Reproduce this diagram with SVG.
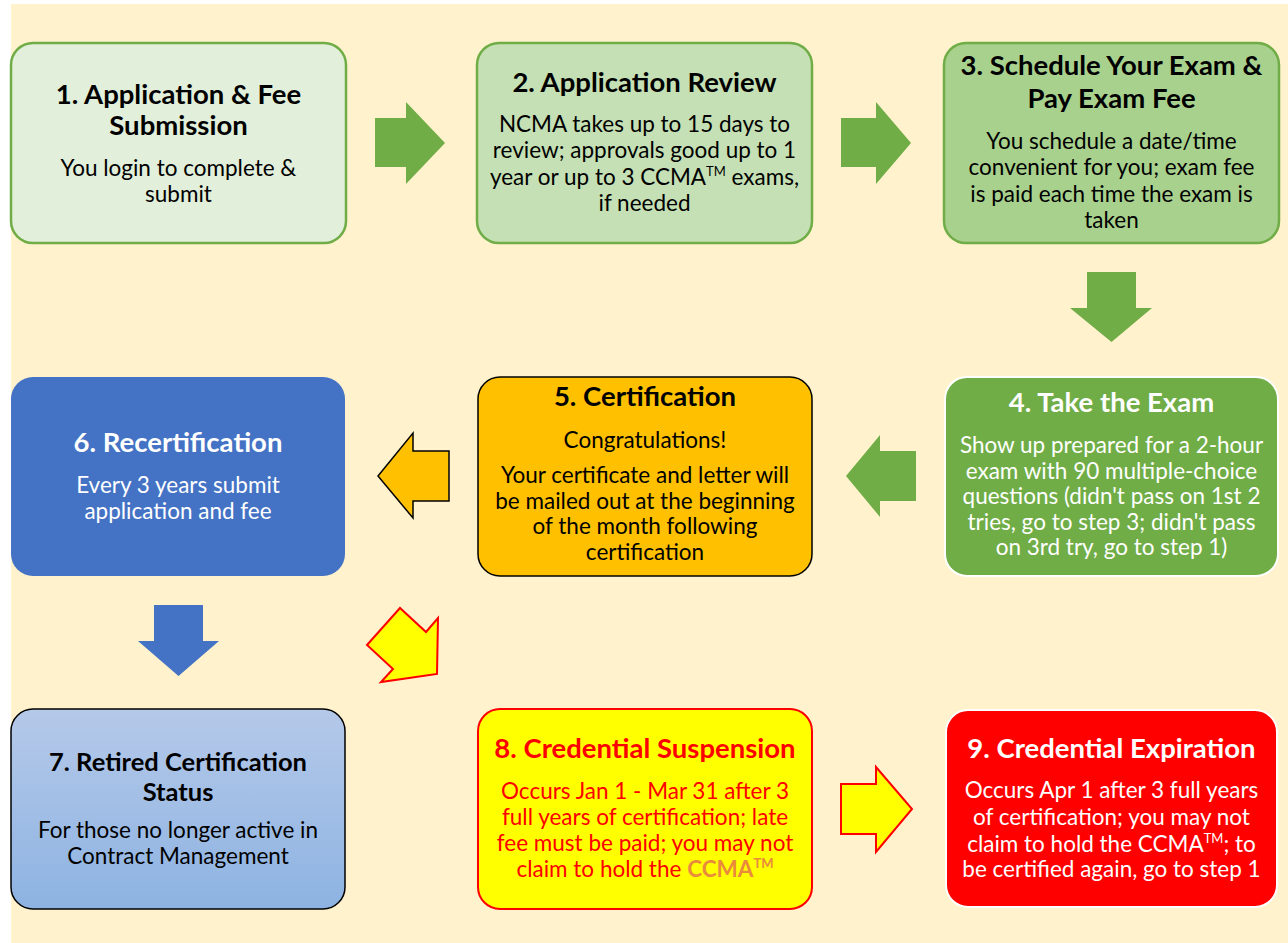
<svg xmlns="http://www.w3.org/2000/svg" width="1288" height="943" viewBox="0 0 1288 943">
<defs>
<linearGradient id="g7" x1="0" y1="0" x2="0" y2="1">
<stop offset="0" stop-color="#B5C9E9"/>
<stop offset="1" stop-color="#8DB3E2"/>
</linearGradient>
<style>
text{font-family:Lato,"Liberation Sans","DejaVu Sans",sans-serif;text-anchor:middle}
.t{font-weight:bold;font-size:27.5px}
.t7{font-size:25.5px}
.b{font-size:22.5px}
.k{fill:#000}
.w{fill:#fff}
.r{fill:#FF0000}
.sup{font-size:13px}
.g{stroke:#70AD47;stroke-width:2.5}
.ga{fill:#70AD47}
.ya{fill:#FFFF00;stroke:#FF0000;stroke-width:2;stroke-linejoin:miter}
</style>
</defs>
<rect x="0" y="0" width="1288" height="943" fill="#fff"/>
<rect x="11" y="4" width="1277" height="939" fill="#FFF2CC"/>

<g id="connectors">
<polygon class="ga" points="375,118 406,118 406,102 445,143 406,184 406,167 375,167"/>
<polygon class="ga" points="841,118 876,118 876,102 911,143 876,184 876,167 841,167"/>
<polygon class="ga" points="1087,272 1136,272 1136,308 1152,308 1111.5,342 1070,308 1087,308"/>
<polygon class="ga" points="916,451 880,451 880,435 846,476 880,517 880,501 916,501"/>
<polygon fill="#FFC000" stroke="#000" stroke-width="1.5" points="449,451 413,451 413,433 378,476 413,518 413,501 449,501"/>
<polygon fill="#4472C4" points="154,605 203,605 203,641 219,641 178.5,676 138,641 154,641"/>
<polygon class="ya" points="367,645 400,608 426,632 438,618 437,674 381,682 393,669"/>
<polygon class="ya" points="841,784 876,784 876,767 912,809 876,852 876,834 841,834"/>
</g>

<g id="node1">
<rect class="g" x="11" y="43" width="335" height="200" rx="22" fill="#E2EFDA"/>
<text class="t k" x="178.5" y="104">1. Application &amp; Fee</text>
<text class="t k" x="178.5" y="135">Submission</text>
<text class="b k" x="178.5" y="176">You login to complete &amp;</text>
<text class="b k" x="178.5" y="202">submit</text>
</g>

<g id="node2">
<rect class="g" x="477" y="43" width="335" height="200" rx="22" fill="#C5E0B4"/>
<text class="t k" x="644.5" y="92">2. Application Review</text>
<text class="b k" x="644.5" y="132">NCMA takes up to 15 days to</text>
<text class="b k" x="644.5" y="158">review; approvals good up to 1</text>
<text class="b k" x="644.5" y="185">year or up to 3 CCMA<tspan class="sup" dy="-9">TM</tspan><tspan dy="9"> exams,</tspan></text>
<text class="b k" x="644.5" y="211">if needed</text>
</g>

<g id="node3">
<rect class="g" x="944" y="43" width="335" height="200" rx="22" fill="#A9D18E"/>
<text class="t k" x="1111.5" y="75">3. Schedule Your Exam &amp;</text>
<text class="t k" x="1111.5" y="108">Pay Exam Fee</text>
<text class="b k" x="1111.5" y="149">You schedule a date/time</text>
<text class="b k" x="1111.5" y="175">convenient for you; exam fee</text>
<text class="b k" x="1111.5" y="202">is paid each time the exam is</text>
<text class="b k" x="1111.5" y="228">taken</text>
</g>

<g id="node4">
<rect x="945" y="377" width="333" height="199" rx="22" fill="#70AD47" stroke="#fff" stroke-width="2"/>
<text class="t w" x="1111.5" y="412">4. Take the Exam</text>
<text class="b w" x="1111.5" y="453">Show up prepared for a 2-hour</text>
<text class="b w" x="1111.5" y="478.5">exam with 90 multiple-choice</text>
<text class="b w" x="1111.5" y="504">questions (didn't pass on 1st 2</text>
<text class="b w" x="1111.5" y="529.5">tries, go to step 3; didn't pass</text>
<text class="b w" x="1111.5" y="555">on 3rd try, go to step 1)</text>
</g>

<g id="node5">
<rect x="478" y="377" width="334" height="199" rx="22" fill="#FFC000" stroke="#000" stroke-width="1.5"/>
<text class="t k" x="645" y="406">5. Certification</text>
<text class="b k" x="645" y="448">Congratulations!</text>
<text class="b k" x="645" y="483">Your certificate and letter will</text>
<text class="b k" x="645" y="508.5">be mailed out at the beginning</text>
<text class="b k" x="645" y="534">of the month following</text>
<text class="b k" x="645" y="559.5">certification</text>
</g>

<g id="node6">
<rect x="11" y="377" width="334" height="199" rx="22" fill="#4472C4"/>
<text class="t w" x="178" y="452">6. Recertification</text>
<text class="b w" x="178" y="493">Every 3 years submit</text>
<text class="b w" x="178" y="519">application and fee</text>
</g>

<g id="node7">
<rect x="11" y="709" width="334" height="200" rx="22" fill="url(#g7)" stroke="#000" stroke-width="1.5"/>
<text class="t t7 k" x="178" y="771">7. Retired Certification</text>
<text class="t t7 k" x="178" y="801">Status</text>
<text class="b k" x="178" y="838">For those no longer active in</text>
<text class="b k" x="178" y="864">Contract Management</text>
</g>

<g id="node8">
<rect x="478" y="709" width="334" height="200" rx="22" fill="#FFFF00" stroke="#FF0000" stroke-width="2"/>
<text class="t r" x="645" y="758">8. Credential Suspension</text>
<text class="b r" x="645" y="799">Occurs Jan 1 - Mar 31 after 3</text>
<text class="b r" x="645" y="825">full years of certification; late</text>
<text class="b r" x="645" y="851">fee must be paid; you may not</text>
<text class="b r" x="645" y="877">claim to hold the <tspan font-weight="bold" fill="#EA8A3C">CCMA<tspan class="sup" dy="-9">TM</tspan></tspan></text>
</g>

<g id="node9">
<rect x="946" y="710" width="331" height="197" rx="22" fill="#FF0000" stroke="#fff" stroke-width="2"/>
<text class="t w" x="1111.5" y="758">9. Credential Expiration</text>
<text class="b w" x="1111.5" y="798">Occurs Apr 1 after 3 full years</text>
<text class="b w" x="1111.5" y="825">of certification; you may not</text>
<text class="b w" x="1111.5" y="852">claim to hold the CCMA<tspan class="sup" dy="-9">TM</tspan><tspan dy="9">; to</tspan></text>
<text class="b w" x="1111.5" y="877">be certified again, go to step 1</text>
</g>
</svg>
